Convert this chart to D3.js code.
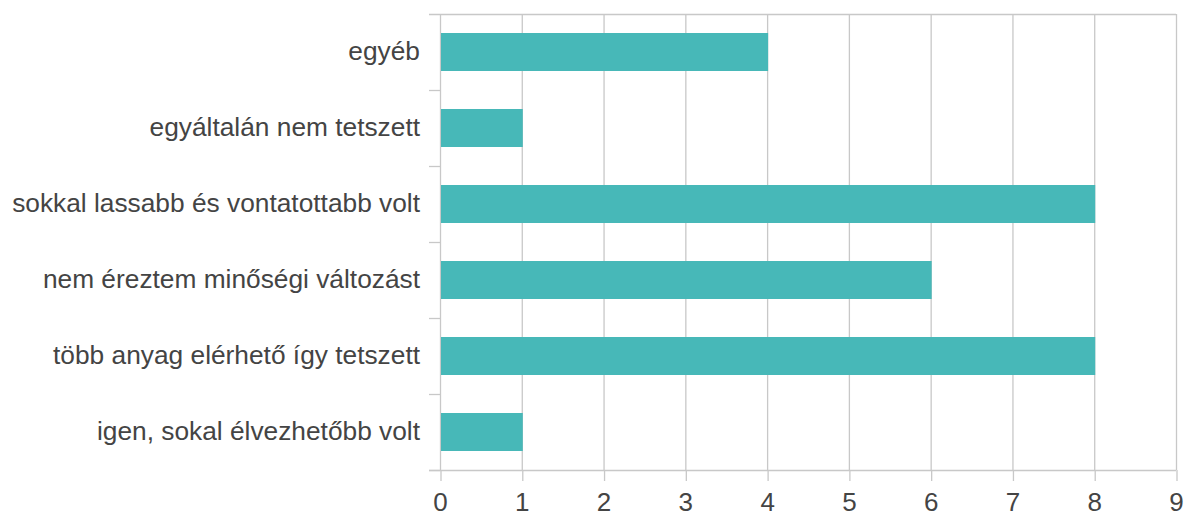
<!DOCTYPE html>
<html>
<head>
<meta charset="utf-8">
<script src="https://cdn.jsdelivr.net/npm/d3@7"></script>
<style>
  body { margin: 0; background: #fff; overflow: hidden; }
  .axis text { font-family: "Liberation Sans", Arial, sans-serif; fill: #444; }
</style>
</head>
<body>
<script>
var categories = [
  "egyéb",
  "egyáltalán nem tetszett",
  "sokkal lassabb és vontatottabb volt",
  "nem éreztem minőségi változást",
  "több anyag elérhető így tetszett",
  "igen, sokal élvezhetőbb volt"
];
var values = [4, 1, 8, 6, 8, 1];
var xTicks = [0, 1, 2, 3, 4, 5, 6, 7, 8, 9];

var margin = {top: 14, right: 9, bottom: 43, left: 440},
    width = 1185 - margin.left - margin.right,
    height = 513 - margin.top - margin.bottom;

var x = d3.scaleLinear()
    .domain([0, 9])
    .range([0, width]);

var y = d3.scaleBand()
    .domain(categories)
    .range([0, height])
    .paddingInner(0.5)
    .paddingOuter(0.25);

var svg = d3.select("body").append("svg")
    .attr("width", 1185)
    .attr("height", 513)
    .style("display", "block")
  .append("g")
    .attr("transform", "translate(" + margin.left + "," + margin.top + ")");

// vertical grid lines
svg.append("g")
    .selectAll("line")
    .data(xTicks)
  .enter().append("line")
    .attr("x1", function(d) { return x(d) + 0.5; })
    .attr("x2", function(d) { return x(d) + 0.5; })
    .attr("y1", 0)
    .attr("y2", height)
    .attr("stroke", "#c8c8c8")
    .attr("stroke-width", 1.3);

// band boundaries on the left (category ticks)
var step = height / categories.length;
svg.append("g")
    .selectAll("line")
    .data(d3.range(categories.length + 1))
  .enter().append("line")
    .attr("x1", -11)
    .attr("x2", function(d) { return d === 0 ? width : 0; })
    .attr("y1", function(d) { return d * step + 0.5; })
    .attr("y2", function(d) { return d * step + 0.5; })
    .attr("stroke", "#c8c8c8")
    .attr("stroke-width", 1.3);

svg.append("g")
    .selectAll("rect")
    .data(values)
  .enter().append("rect")
    .attr("x", x(0) + 1)
    .attr("y", function(d, i) { return y(categories[i]); })
    .attr("width", function(d) { return x(d) - x(0); })
    .attr("height", y.bandwidth())
    .attr("fill", "#47b8b8");

var xAxis = d3.axisBottom(x)
    .tickValues(xTicks)
    .tickSize(11)
    .tickPadding(12)
    .tickFormat(d3.format("d"));

var gx = svg.append("g")
    .attr("class", "axis")
    .attr("transform", "translate(0," + height + ")")
    .call(xAxis);
gx.select(".domain").attr("stroke", "#c8c8c8").attr("stroke-width", 1.3)
    .attr("d", "M-11,0.5H" + width);
gx.selectAll(".tick line").attr("stroke", "#c8c8c8").attr("stroke-width", 1.3)
    .attr("transform", "translate(0.5,0)");
gx.selectAll("text").style("font-size", "26px");

var yAxis = d3.axisLeft(y)
    .tickSize(0)
    .tickPadding(20);

var gy = svg.append("g")
    .attr("class", "axis")
    .call(yAxis);
gy.select(".domain").remove();
gy.selectAll("text").style("font-size", "26.3px");
</script>
</body>
</html>
